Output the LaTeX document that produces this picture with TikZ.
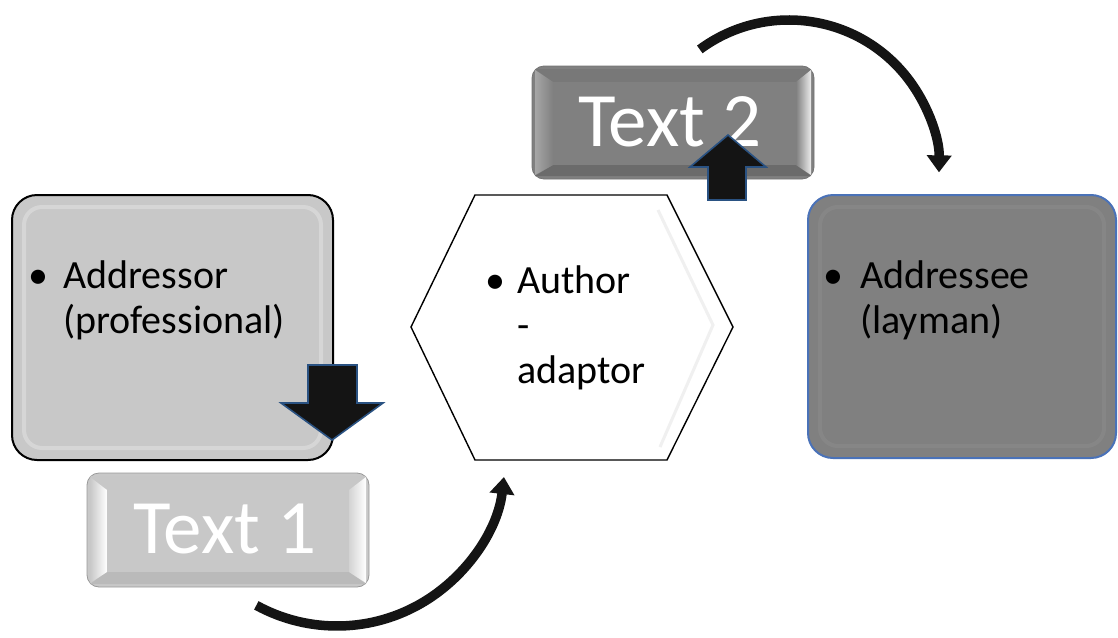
\documentclass[tikz,border=0pt]{standalone}
\usepackage{fontspec}
\setmainfont{Carlito}
\usetikzlibrary{arrows.meta,calc}
\definecolor{lightbox}{HTML}{C8C8C8}
\definecolor{darkbox}{HTML}{808080}
\definecolor{bluedge}{HTML}{4A72B8}
\definecolor{arrowedge}{HTML}{2A5282}
\definecolor{arrowfill}{HTML}{141414}
\tikzset{
  bigbox/.style={rounded corners=25pt, line width=2pt},
  txtbox/.style={rounded corners=12pt, line width=0.8pt},
  bodytext/.style={inner sep=0pt, anchor=base west, font=\fontsize{40}{45}\selectfont},
  bullet/.style={inner sep=0pt, anchor=base, font=\fontsize{40}{45}\selectfont},
  keytext/.style={inner sep=0pt, anchor=base west, text=white, font=\fontsize{77}{90}\selectfont},
  blockarrow/.style={fill=arrowfill, draw=arrowedge, line width=1.6pt, line join=miter},
  curvedarrow/.style={draw=arrowfill, line width=9.5pt, -{Triangle[width=24pt,length=17pt]}},
}
\begin{document}
\begin{tikzpicture}[x=1pt,y=-1pt]
\useasboundingbox (0,0) rectangle (1118,637);

% ---------- Addressor box ----------
\draw[bigbox, fill=lightbox, draw=black] (12,195) rectangle (333,460);
\coordinate (addressor) at (172,327);
\draw[rounded corners=18pt, draw=white!85!lightbox, line width=4pt, opacity=0.3] (24,207) rectangle (321,448);
\node[bullet] (b1) at (38,288) {•};
\node[bodytext] (addressorA) at (63,288) {Addressor};
\node[bodytext] (addressorB) at (63,333) {(professional)};

% ---------- Text 1 box ----------
\draw[txtbox, fill=lightbox, draw=gray!80] (87,473) rectangle (369,587);
\fill[black!22] (90,476) -- (107,490) -- (349,490) -- (366,476) -- cycle;
\fill[black!27] (90,584) -- (107,572) -- (349,572) -- (366,584) -- cycle;
\shade[left color=lightbox, right color=white] (90,477) -- (107,490) -- (107,572) -- (90,583) -- cycle;
\shade[left color=lightbox!80!white, right color=white] (349,490) -- (366,477) -- (366,583) -- (349,572) -- cycle;
\fill[lightbox] (107,490) rectangle (349,572);
\node[keytext] (text1) at (133,553) {Text 1};

% ---------- Hexagon ----------
\draw[fill=white, draw=black, line width=1.4pt] (475,195) -- (667,195) -- (733,327) -- (667,460) -- (475,460) -- (411,327) -- cycle;
\draw[draw=black!6, line width=3pt] (658,210) -- (713,325) -- (660,447);
\coordinate (hex) at (572,327);
\node[bullet] (b2) at (495,293) {•};
\node[bodytext] (authorA) at (517,293) {Author};
\node[bodytext] (authorB) at (517,338) {-};
\node[bodytext] (authorC) at (517,383) {adaptor};

% ---------- Text 2 box ----------
\draw[txtbox, fill=darkbox, draw=black!55] (532,66) rectangle (814,179);
\fill[black!53] (535,69) -- (553,82) -- (796,82) -- (811,69) -- cycle;
\fill[black!58] (535,176) -- (553,165) -- (796,165) -- (811,176) -- cycle;
\shade[left color=darkbox!70!white, right color=darkbox] (535,70) -- (553,82) -- (553,165) -- (535,175) -- cycle;
\shade[left color=darkbox, right color=white!85!darkbox] (796,82) -- (811,70) -- (811,175) -- (796,165) -- cycle;
\fill[darkbox] (553,82) rectangle (796,165);
\node[keytext] (text2) at (578,146) {Text 2};

% ---------- Addressee box ----------
\draw[bigbox, fill=darkbox, draw=bluedge] (808,195) rectangle (1116,458);
\draw[rounded corners=18pt, draw=darkbox!85!white, line width=4pt, opacity=0.35] (820,207) rectangle (1104,446);
\coordinate (addressee) at (962,327);
\node[bullet] (b3) at (833,288) {•};
\node[bodytext] (addresseeA) at (860,288) {Addressee};
\node[bodytext] (addresseeB) at (860,333) {(layman)};

% ---------- block arrows ----------
\draw[blockarrow] (308,365) -- (357,365) -- (357,403) -- (383,403) -- (332,440) -- (281,403) -- (308,403) -- cycle;
\draw[blockarrow] (708,200) -- (746,200) -- (746,167) -- (766,167) -- (728,135) -- (690,167) -- (708,167) -- cycle;

% ---------- curved arrows ----------
\coordinate (topc) at (789,170);
\coordinate (tops) at ($(topc)+(-126.5:150)$);
\draw[curvedarrow] (tops) arc[start angle=-126.5, end angle=0.9, radius=150];

\coordinate (botc) at (337,458);
\coordinate (bots) at ($(botc)+(118.7:168)$);
\draw[curvedarrow] (bots) arc[start angle=118.7, end angle=6.5, radius=168];
\end{tikzpicture}
\end{document}
